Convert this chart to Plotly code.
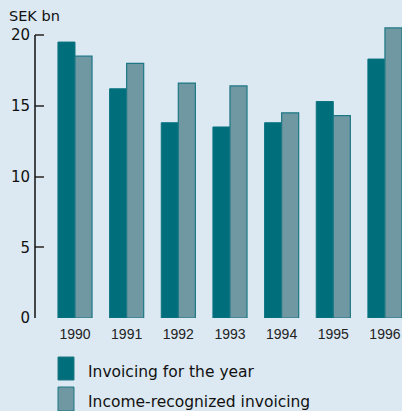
import plotly.graph_objects as go

years = ["1990", "1991", "1992", "1993", "1994", "1995", "1996"]
invoicing = [19.5, 16.2, 13.8, 13.5, 13.8, 15.3, 18.3]
income_recognized = [18.5, 18.0, 16.6, 16.4, 14.5, 14.3, 20.5]
y_ticks = [0, 5, 10, 15, 20]

dark = "#006f7b"
light = "#6f98a3"
bg = "#dce9f2"

fig = go.Figure()
fig.add_bar(x=years, y=invoicing, name="Invoicing for the year",
            marker=dict(color=dark, line=dict(color="#0c7480", width=1)))
fig.add_bar(x=years, y=income_recognized, name="Income-recognized invoicing",
            marker=dict(color=light, line=dict(color="#1c7884", width=1.2)))

fig.update_layout(
    width=402, height=411,
    margin=dict(l=35, r=0, t=20, b=93),
    paper_bgcolor=bg, plot_bgcolor=bg,
    barmode="group", bargap=0.34, bargroupgap=0,
    showlegend=False,
    xaxis=dict(range=[-0.774, 6.33], showline=False, showgrid=False, zeroline=False,
               ticks="", tickfont=dict(family="Liberation Sans", size=14, color="#222"),
               ticklabelstandoff=6),
    yaxis=dict(range=[0, 21.06], showline=False, showgrid=False, zeroline=False,
               tickvals=y_ticks, ticks="inside", ticklen=9, tickwidth=2, tickcolor="#555",
               tickfont=dict(family="DejaVu Sans", size=15, color="#111"),
               ticklabelstandoff=4),
)

# y axis line from 0 to 20
fig.add_shape(type="line", xref="paper", yref="y", x0=0, x1=0, y0=0, y1=20,
              line=dict(color="#111", width=1.5))

def px_x(p):
    return (p - 35) / 367
def px_y(p):
    return (318 - p) / 298

fig.add_annotation(text="SEK bn", xref="paper", yref="paper", x=px_x(7), y=px_y(16),
                   xanchor="left", yanchor="middle", showarrow=False,
                   font=dict(family="DejaVu Sans", size=14.5, color="#111"))

# legend drawn manually
legend = [("Invoicing for the year", dark, 357, 380, 372),
          ("Income-recognized invoicing", light, 387, 411, 402)]
for label, col, y0, y1, yc in legend:
    fig.add_shape(type="rect", xref="paper", yref="paper",
                  x0=px_x(58), x1=px_x(74), y0=px_y(y1), y1=px_y(y0),
                  fillcolor=col, line=dict(color="#1c7884", width=1))
    fig.add_annotation(text=label, xref="paper", yref="paper", x=px_x(86), y=px_y(yc),
                       xanchor="left", yanchor="middle", showarrow=False,
                       font=dict(family="DejaVu Sans", size=15.5, color="#111"))

fig.write_html("out.html")
